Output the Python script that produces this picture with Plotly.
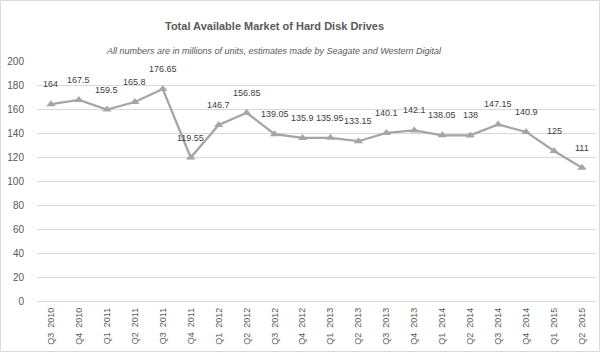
import plotly.graph_objects as go

quarters = ["Q3  2010", "Q4  2010", "Q1  2011", "Q2  2011", "Q3  2011", "Q4  2011",
            "Q1  2012", "Q2  2012", "Q3  2012", "Q4  2012", "Q1  2013", "Q2  2013",
            "Q3  2013", "Q4  2013", "Q1  2014", "Q2  2014", "Q3  2014", "Q4  2014",
            "Q1  2015", "Q2  2015"]
units = [164, 167.5, 159.5, 165.8, 176.65, 119.55, 146.7, 156.85, 139.05, 135.9,
         135.95, 133.15, 140.1, 142.1, 138.05, 138, 147.15, 140.9, 125, 111]
y_ticks = [0, 20, 40, 60, 80, 100, 120, 140, 160, 180, 200]

title_text = "Total Available Market of Hard Disk Drives"
subtitle_text = "All numbers are in millions of units, estimates made by Seagate and Western Digital"

FONT = "Liberation Sans, Arial, sans-serif"
W, H = 600, 352
ML, MR, MT, MB = 37, 4, 61, 51
PW, PH = W - ML - MR, H - MT - MB

tick_text = [q.replace(" ", "\u00a0") for q in quarters]

fig = go.Figure()
fig.add_trace(go.Scatter(
    x=quarters, y=units, mode="lines+markers",
    line=dict(color="#a5a5a5", width=2.25),
    marker=dict(symbol="triangle-up", size=8, color="#a5a5a5"),
    hoverinfo="x+y", showlegend=False,
))

for q, v in zip(quarters, units):
    fig.add_annotation(x=q, y=v, text=f"{v:g}", showarrow=False, yshift=20,
                       font=dict(family=FONT, size=9, color="#404040"))

# titles
fig.add_annotation(xref="paper", yref="paper", x=(274 - ML) / PW, y=(H - MB - 18) / PH,
                   text="<b>" + title_text + "</b>", showarrow=False,
                   font=dict(family=FONT, size=11, color="#595959"))
fig.add_annotation(xref="paper", yref="paper", x=(274 - ML) / PW, y=(H - MB - 44) / PH,
                   text="<i>" + subtitle_text + "</i>", showarrow=False,
                   font=dict(family=FONT, size=9, color="#595959"))

# outer border
fig.add_shape(type="rect", xref="paper", yref="paper",
              x0=(0.5 - ML) / PW, x1=(W - 0.5 - ML) / PW,
              y0=(H - MB - (H - 0.5)) / PH, y1=(H - MB - 0.5) / PH,
              line=dict(color="#d9d9d9", width=1), fillcolor="rgba(0,0,0,0)", layer="below")

fig.update_layout(
    width=W, height=H,
    margin=dict(l=ML, r=MR, t=MT, b=MB, pad=0),
    paper_bgcolor="white", plot_bgcolor="white",
    font=dict(family=FONT, size=9, color="#595959"),
    xaxis=dict(type="category", range=[-0.5, len(quarters) - 0.5], showgrid=False,
               showline=False, ticks="", tickangle=-90,
               tickvals=quarters, ticktext=tick_text, ticklabelstandoff=4,
               tickfont=dict(family=FONT, size=9, color="#595959")),
    yaxis=dict(range=[0, 200], tickvals=y_ticks, showgrid=True, gridcolor="#d9d9d9",
               gridwidth=1, zeroline=True, zerolinecolor="#d9d9d9", zerolinewidth=1,
               showline=False, ticks="", ticklabelstandoff=12,
               tickfont=dict(family=FONT, size=10, color="#595959")),
)

fig.write_html("out.html")
